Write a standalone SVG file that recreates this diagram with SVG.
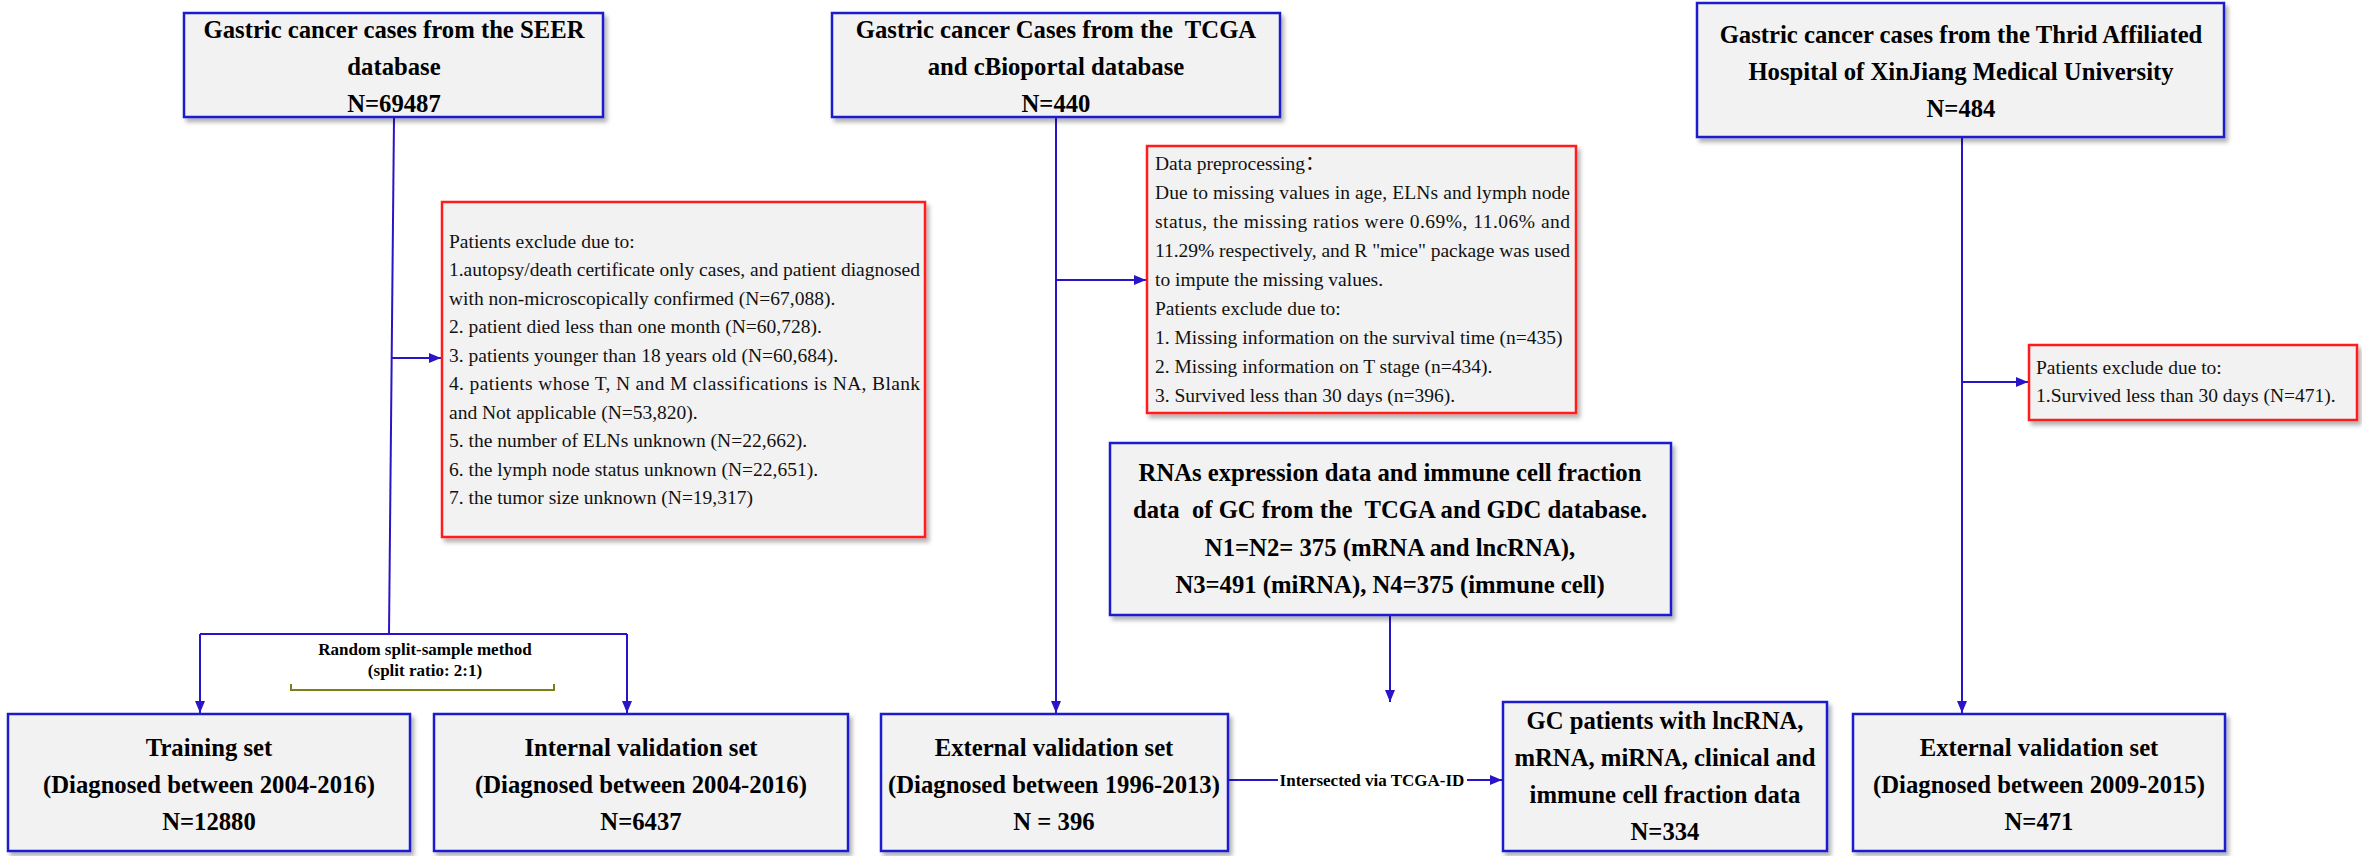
<svg xmlns="http://www.w3.org/2000/svg" width="2362" height="856" viewBox="0 0 2362 856">
<defs>
<filter id="sh" x="-5%" y="-5%" width="115%" height="125%"><feDropShadow dx="3" dy="4" stdDeviation="2" flood-color="#000" flood-opacity="0.3"/></filter>
<marker id="ah" viewBox="0 0 12 10" refX="12" refY="5" markerWidth="12" markerHeight="10" markerUnits="userSpaceOnUse" orient="auto"><path d="M0,0 L12,5 L0,10 z" fill="#2a14c8"/></marker>
</defs>
<style>
.bx{fill:#f2f2f2;stroke:#1f1fcc;stroke-width:2.5;filter:url(#sh)}
.rx{fill:#f2f2f2;stroke:#ff1a1a;stroke-width:2.5;filter:url(#sh)}
.b{font-family:"Liberation Serif","Times New Roman",serif;font-weight:bold;font-size:24.7px;fill:#000;text-anchor:middle}
.r{font-family:"Liberation Serif","Noto Sans CJK SC",serif;font-size:19.5px;fill:#111}
.ln{fill:none;stroke:#2a14c8;stroke-width:2}
.lb{font-family:"Liberation Serif","Times New Roman",serif;font-weight:bold;font-size:17px;fill:#000;text-anchor:middle}
</style>
<rect width="2362" height="856" fill="#fff"/>

<g id="connectors">
<path class="ln" d="M394,118 L389,634"/>
<path class="ln" d="M392,358 L441,358" marker-end="url(#ah)"/>
<path class="ln" d="M200,634 L627,634"/>
<path class="ln" d="M200,634 L200,713" marker-end="url(#ah)"/>
<path class="ln" d="M627,634 L627,713" marker-end="url(#ah)"/>
<path class="ln" d="M1056,118 L1056,713" marker-end="url(#ah)"/>
<path class="ln" d="M1056,280 L1146,280" marker-end="url(#ah)"/>
<path class="ln" d="M1390,616 L1390,702" marker-end="url(#ah)"/>
<path class="ln" d="M1229,780 L1278,780"/>
<path class="ln" d="M1467,780 L1502,780" marker-end="url(#ah)"/>
<path class="ln" d="M1962,138 L1962,713" marker-end="url(#ah)"/>
<path class="ln" d="M1962,382 L2028,382" marker-end="url(#ah)"/>
<path d="M291,684 L291,690 L554,690 L554,684" fill="none" stroke="#7f7f1a" stroke-width="2"/>
<text class="lb" x="425" y="655">Random split-sample method</text>
<text class="lb" x="425" y="676">(split ratio: 2:1)</text>
<text class="lb" x="1372" y="786">Intersected via TCGA-ID</text>
</g>

<g id="seer">
<rect class="bx" x="184" y="13" width="419" height="104"/>
<text class="b" x="394" y="38">Gastric cancer cases from the SEER</text>
<text class="b" x="394" y="75">database</text>
<text class="b" x="394" y="112">N=69487</text>
</g>

<g id="tcga">
<rect class="bx" x="832" y="13" width="448" height="104"/>
<text class="b" x="1056" y="38" xml:space="preserve">Gastric cancer Cases from the  TCGA</text>
<text class="b" x="1056" y="75">and cBioportal database</text>
<text class="b" x="1056" y="112">N=440</text>
</g>

<g id="hospital">
<rect class="bx" x="1697" y="3" width="527" height="134"/>
<text class="b" x="1961" y="43">Gastric cancer cases from the Thrid Affiliated</text>
<text class="b" x="1961" y="80">Hospital of XinJiang Medical University</text>
<text class="b" x="1961" y="117">N=484</text>
</g>

<g id="exclude-seer">
<rect class="rx" x="442" y="202" width="483" height="335"/>
<text class="r" x="449" y="247.5">Patients exclude due to:</text>
<text class="r" x="449" y="276" textLength="471" lengthAdjust="spacing">1.autopsy/death certificate only cases, and patient diagnosed</text>
<text class="r" x="449" y="304.5">with non-microscopically confirmed (N=67,088).</text>
<text class="r" x="449" y="333">2. patient died less than one month (N=60,728).</text>
<text class="r" x="449" y="361.5">3. patients younger than 18 years old (N=60,684).</text>
<text class="r" x="449" y="390" textLength="471" lengthAdjust="spacing">4. patients whose T, N and M classifications is NA, Blank</text>
<text class="r" x="449" y="418.5">and Not applicable (N=53,820).</text>
<text class="r" x="449" y="447">5. the number of ELNs unknown (N=22,662).</text>
<text class="r" x="449" y="475.5">6. the lymph node status unknown (N=22,651).</text>
<text class="r" x="449" y="504">7. the tumor size unknown (N=19,317)</text>
</g>

<g id="preprocessing">
<rect class="rx" x="1147" y="146" width="429" height="267"/>
<text class="r" x="1155" y="170">Data preprocessing：</text>
<text class="r" x="1155" y="199" textLength="415" lengthAdjust="spacing">Due to missing values in age, ELNs and lymph node</text>
<text class="r" x="1155" y="228" textLength="415" lengthAdjust="spacing">status, the missing ratios were 0.69%, 11.06% and</text>
<text class="r" x="1155" y="257" textLength="415" lengthAdjust="spacing">11.29% respectively, and R "mice" package was used</text>
<text class="r" x="1155" y="286">to impute the missing values.</text>
<text class="r" x="1155" y="315">Patients exclude due to:</text>
<text class="r" x="1155" y="344">1. Missing information on the survival time (n=435)</text>
<text class="r" x="1155" y="373">2. Missing information on T stage (n=434).</text>
<text class="r" x="1155" y="402">3. Survived less than 30 days (n=396).</text>
</g>

<g id="exclude-hospital">
<rect class="rx" x="2029" y="345" width="328" height="75"/>
<text class="r" x="2036" y="374">Patients exclude due to:</text>
<text class="r" x="2036" y="402">1.Survived less than 30 days (N=471).</text>
</g>

<g id="rna">
<rect class="bx" x="1110" y="443" width="561" height="172"/>
<text class="b" x="1390" y="481">RNAs expression data and immune cell fraction</text>
<text class="b" x="1390" y="518" xml:space="preserve">data  of GC from the  TCGA and GDC database.</text>
<text class="b" x="1390" y="556">N1=N2= 375 (mRNA and lncRNA),</text>
<text class="b" x="1390" y="593">N3=491 (miRNA), N4=375 (immune cell)</text>
</g>

<g id="training">
<rect class="bx" x="8" y="714" width="402" height="137"/>
<text class="b" x="209" y="756">Training set</text>
<text class="b" x="209" y="793">(Diagnosed between 2004-2016)</text>
<text class="b" x="209" y="830">N=12880</text>
</g>

<g id="internal">
<rect class="bx" x="434" y="714" width="414" height="137"/>
<text class="b" x="641" y="756">Internal validation set</text>
<text class="b" x="641" y="793">(Diagnosed between 2004-2016)</text>
<text class="b" x="641" y="830">N=6437</text>
</g>

<g id="external-tcga">
<rect class="bx" x="881" y="714" width="347" height="137"/>
<text class="b" x="1054" y="756">External validation set</text>
<text class="b" x="1054" y="793">(Diagnosed between 1996-2013)</text>
<text class="b" x="1054" y="830">N = 396</text>
</g>

<g id="gc-patients">
<rect class="bx" x="1503" y="702" width="324" height="149"/>
<text class="b" x="1665" y="729">GC patients with lncRNA,</text>
<text class="b" x="1665" y="766">mRNA, miRNA, clinical and</text>
<text class="b" x="1665" y="803">immune cell fraction data</text>
<text class="b" x="1665" y="840">N=334</text>
</g>

<g id="external-hospital">
<rect class="bx" x="1853" y="714" width="372" height="137"/>
<text class="b" x="2039" y="756">External validation set</text>
<text class="b" x="2039" y="793">(Diagnosed between 2009-2015)</text>
<text class="b" x="2039" y="830">N=471</text>
</g>
</svg>
